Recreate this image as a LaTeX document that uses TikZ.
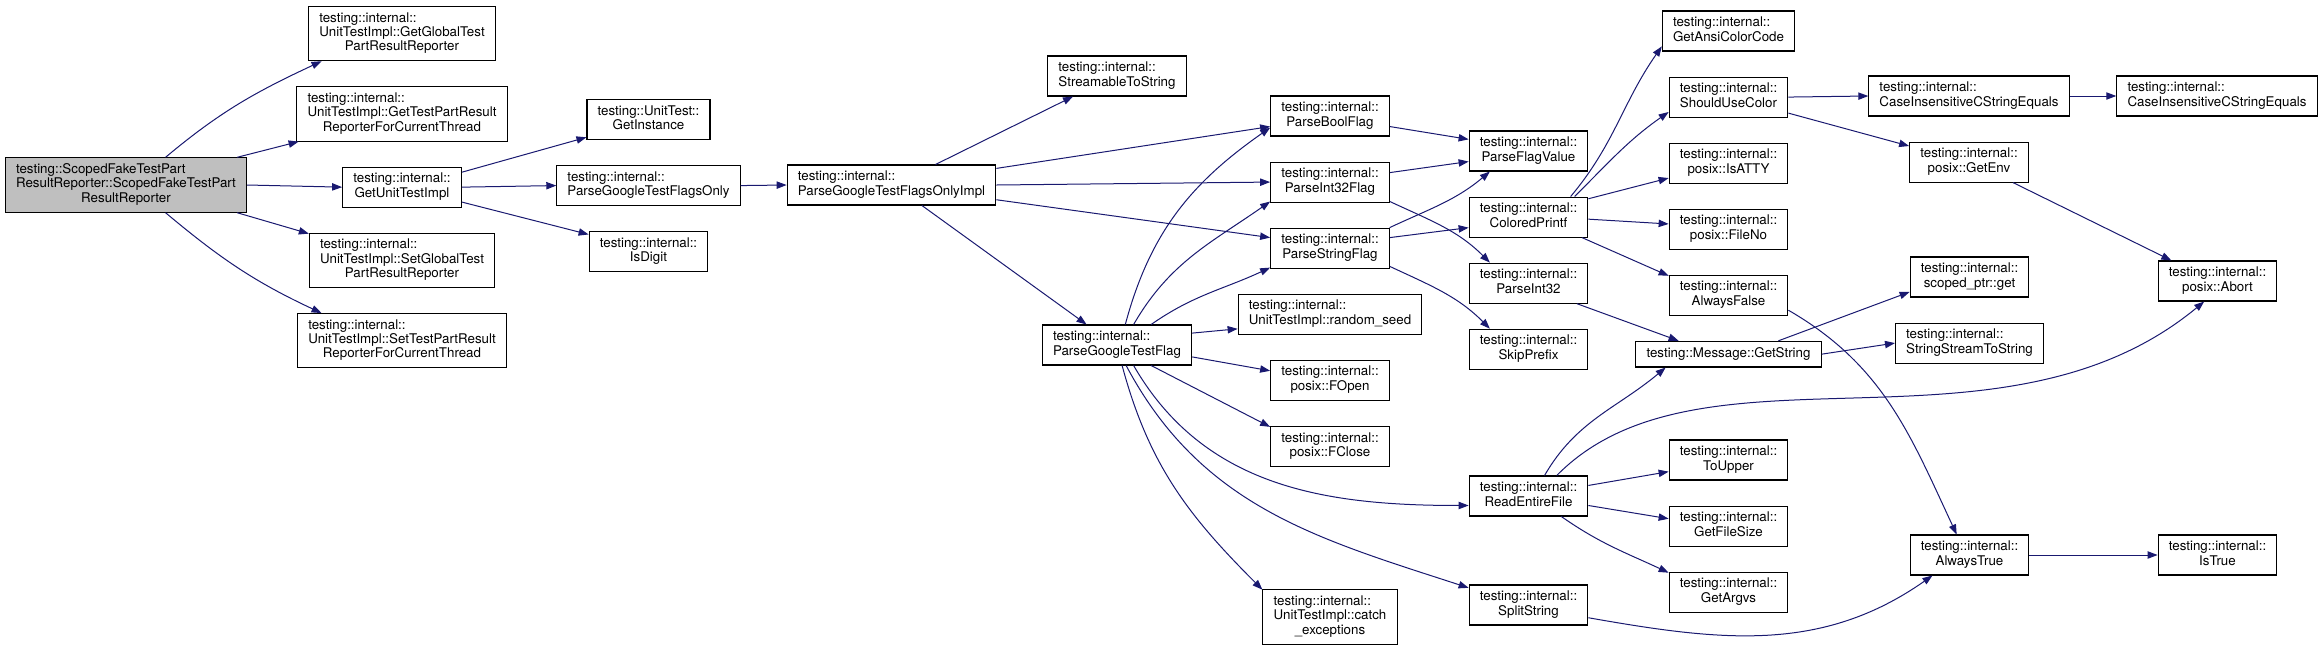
\documentclass[tikz,border=0pt]{standalone}
\usepackage{fontspec}
\setmainfont{TeX Gyre Heros}
\usetikzlibrary{positioning, arrows.meta}
\definecolor{edgeblue}{RGB}{25, 25, 112}
\definecolor{rootgray}{RGB}{191, 191, 191}
\newcommand{\fnlabel}[2]{\begin{tabular}{@{}l@{}}#1\\\multicolumn{1}{@{}c@{}}{#2}\end{tabular}}
\newcommand{\fnlabelx}[3]{\begin{tabular}{@{}l@{}}#1\\#2\\\multicolumn{1}{@{}c@{}}{#3}\end{tabular}}

\begin{document}
\begin{tikzpicture}[x=0.75pt, y=-0.75pt,
      fnbox/.style={draw=black, fill=white, line width=0.8pt, inner xsep=8pt, inner ysep=4.25pt, font=\fontsize{10}{10.75}\selectfont},
      rootbox/.style={fnbox, fill=rootgray},
      callarrow/.style={-{Triangle[length=7.5pt, width=5.5pt]}, edgeblue, line width=0.75pt},
      node distance=18.75pt
    ]
      \useasboundingbox (0,0) rectangle (2323,651);

      % caller
      \node [rootbox] (main) at (126,185) {\fnlabelx{testing::ScopedFakeTestPart}{ResultReporter::ScopedFakeTestPart}{ResultReporter}};

      \node [fnbox] (ggtprr) at (402,33.5) {\fnlabelx{testing::internal::}{UnitTestImpl::GetGlobalTest}{PartResultReporter}};
      \node [fnbox, below=of ggtprr] (gtprfct) {\fnlabelx{testing::internal::}{UnitTestImpl::GetTestPartResult}{ReporterForCurrentThread}};
      \node [fnbox, below=of gtprfct] (gut) {\fnlabel{testing::internal::}{GetUnitTestImpl}};
      \node [fnbox, below=of gut] (sgtprr) {\fnlabelx{testing::internal::}{UnitTestImpl::SetGlobalTest}{PartResultReporter}};
      \node [fnbox, below=of sgtprr] (stprfct) {\fnlabelx{testing::internal::}{UnitTestImpl::SetTestPartResult}{ReporterForCurrentThread}};

      \node [fnbox] (gi) at (648.5,119.5) {\fnlabel{testing::UnitTest::}{GetInstance}};
      \node [fnbox, below=of gi] (pgtfo) {\fnlabel{testing::internal::}{ParseGoogleTestFlagsOnly}};
      \node [fnbox, below=of pgtfo] (isd) {\fnlabel{testing::internal::}{IsDigit}};

      \node [fnbox] (impl) at (891.5,185) {\fnlabel{testing::internal::}{ParseGoogleTestFlagsOnlyImpl}};

      \node [fnbox] (sts) at (1117,76) {\fnlabel{testing::internal::}{StreamableToString}};
      \node [fnbox] (pgtf) at (1117,345) {\fnlabel{testing::internal::}{ParseGoogleTestFlag}};

      \node [fnbox] (pbf) at (1330,116) {\fnlabel{testing::internal::}{ParseBoolFlag}};
      \node [fnbox, below=of pbf] (pi32f) {\fnlabel{testing::internal::}{ParseInt32Flag}};
      \node [fnbox, below=of pi32f] (psf) {\fnlabel{testing::internal::}{ParseStringFlag}};
      \node [fnbox, below=of psf] (rs) {\fnlabel{testing::internal::}{UnitTestImpl::random\_seed}};
      \node [fnbox, below=of rs] (fopen) {\fnlabel{testing::internal::}{posix::FOpen}};
      \node [fnbox, below=of fopen] (fclose) {\fnlabel{testing::internal::}{posix::FClose}};
      \node [fnbox] (catchex) at (1330,617) {\fnlabelx{testing::internal::}{UnitTestImpl::catch}{\_exceptions}};

      \node [fnbox] (pfv) at (1528.5,151) {\fnlabel{testing::internal::}{ParseFlagValue}};
      \node [fnbox, below=of pfv] (cp) {\fnlabel{testing::internal::}{ColoredPrintf}};
      \node [fnbox, below=of cp] (pi32) {\fnlabel{testing::internal::}{ParseInt32}};
      \node [fnbox, below=of pi32] (skip) {\fnlabel{testing::internal::}{SkipPrefix}};
      \node [fnbox] (ref) at (1528.5,496) {\fnlabel{testing::internal::}{ReadEntireFile}};
      \node [fnbox] (split) at (1528.5,605) {\fnlabel{testing::internal::}{SplitString}};

      \node [fnbox] (gacc) at (1728.5,31) {\fnlabel{testing::internal::}{GetAnsiColorCode}};
      \node [fnbox, below=of gacc] (suc) {\fnlabel{testing::internal::}{ShouldUseColor}};
      \node [fnbox, below=of suc] (isatty) {\fnlabel{testing::internal::}{posix::IsATTY}};
      \node [fnbox, below=of isatty] (fileno) {\fnlabel{testing::internal::}{posix::FileNo}};
      \node [fnbox, below=of fileno] (af) {\fnlabel{testing::internal::}{AlwaysFalse}};
      \node [fnbox, below=of af] (mgs) {\strut testing::Message::GetString};
      \node [fnbox] (toupper) at (1728.5,460) {\fnlabel{testing::internal::}{ToUpper}};
      \node [fnbox, below=of toupper] (gfs) {\fnlabel{testing::internal::}{GetFileSize}};
      \node [fnbox, below=of gfs] (gargv) {\fnlabel{testing::internal::}{GetArgvs}};

      \node [fnbox] (cie1) at (1969,96) {\fnlabel{testing::internal::}{CaseInsensitiveCStringEquals}};
      \node [fnbox, below=of cie1] (getenv) {\fnlabel{testing::internal::}{posix::GetEnv}};
      \node [fnbox] (sptr) at (1969.5,277) {\fnlabel{testing::internal::}{scoped\_ptr::get}};
      \node [fnbox, below=of sptr] (ssts) {\fnlabel{testing::internal::}{StringStreamToString}};
      \node [fnbox] (alwtrue) at (1969.5,555) {\fnlabel{testing::internal::}{AlwaysTrue}};

      \node [fnbox] (cie2) at (2217,96) {\fnlabel{testing::internal::}{CaseInsensitiveCStringEquals}};
      \node [fnbox] (abort) at (2217.5,281) {\fnlabel{testing::internal::}{posix::Abort}};
      \node [fnbox] (istrue) at (2217.5,555) {\fnlabel{testing::internal::}{IsTrue}};

      % calls
      \draw [callarrow] (main.35) to[out=40, in=205] (ggtprr.-161);
      \draw [callarrow] (main.14) -- (gtprfct.-165);
      \draw [callarrow] (main.east) -- (gut.west);
      \draw [callarrow] (main.-14) -- (sgtprr.164);
      \draw [callarrow] (main.-35) to[out=-40, in=155] (stprfct.161);

      \draw [callarrow] (gut.14) -- (gi.-164);
      \draw [callarrow] (gut.east) -- (pgtfo.west);
      \draw [callarrow] (gut.-14) -- (isd.164);
      \draw [callarrow] (pgtfo.east) -- (impl.west);

      \draw [callarrow] (impl.25) -- (sts.-155);
      \draw [callarrow] (impl.9) -- (pbf.-170);
      \draw [callarrow] (impl.east) -- (pi32f.west);
      \draw [callarrow] (impl.-8) -- (psf.170);
      \draw [callarrow] (impl.-34) -- (pgtf.146);

      \draw [callarrow] (pgtf.68) to[out=75, in=215] (pbf.-169);
      \draw [callarrow] (pgtf.51) to[out=60, in=215] (pi32f.-162);
      \draw [callarrow] (pgtf.31) to[out=35, in=205] (psf.-162);
      \draw [callarrow] (pgtf.9) -- (rs.-171);
      \draw [callarrow] (pgtf.-9) -- (fopen.171);
      \draw [callarrow] (pgtf.-31) -- (fclose.162);
      \draw [callarrow] (pgtf.-51) to[out=-60, in=180] (ref.-171);
      \draw [callarrow] (pgtf.-66) to[out=-62, in=162] (split.164);
      \draw [callarrow] (pgtf.-76) to[out=-75, in=135] (catchex.158);

      \draw [callarrow] (pbf.-10) -- (pfv.169);
      \draw [callarrow] (pi32f.9) -- (pfv.-170);
      \draw [callarrow] (pi32f.-18) to[out=-25, in=135] (pi32.152);
      \draw [callarrow] (psf.19) to[out=25, in=220] (pfv.-152);
      \draw [callarrow] (psf.10) -- (cp.-170);
      \draw [callarrow] (psf.-17) to[out=-25, in=135] (skip.152);

      \draw [callarrow] (cp.26) to[out=50, in=235] (gacc.-167);
      \draw [callarrow] (cp.24) to[out=45, in=215] (suc.-166);
      \draw [callarrow] (cp.17) -- (isatty.-166);
      \draw [callarrow] (cp.-2) -- (fileno.175);
      \draw [callarrow] (cp.-21) -- (af.162);

      \draw [callarrow] (suc.east) -- (cie1.west);
      \draw [callarrow] (suc.-15) -- (getenv.165);
      \draw [callarrow] (cie1.east) -- (cie2.west);
      \draw [callarrow] (getenv.-25) -- (abort.156);

      \draw [callarrow] (pi32.-23) -- (mgs.165);
      \draw [callarrow] (mgs.15) -- (sptr.-166);
      \draw [callarrow] (mgs.east) -- (ssts.west);

      \draw [callarrow] (ref.52) to[out=60, in=220] (mgs.-168);
      \draw [callarrow] (ref.36) .. controls (1700,330) and (2000,470) .. (abort.-123);
      \draw [callarrow] (ref.10) -- (toupper.-169);
      \draw [callarrow] (ref.-9) -- (gfs.173);
      \draw [callarrow] (ref.-32) to[out=-35, in=155] (gargv.162);

      \draw [callarrow] (af.-14) to[out=-30, in=115] (alwtrue.122);
      \draw [callarrow] (split.-12) to[out=-10, in=215] (alwtrue.-151);
      \draw [callarrow] (alwtrue.east) -- (istrue.west);
    \end{tikzpicture}
\end{document}
